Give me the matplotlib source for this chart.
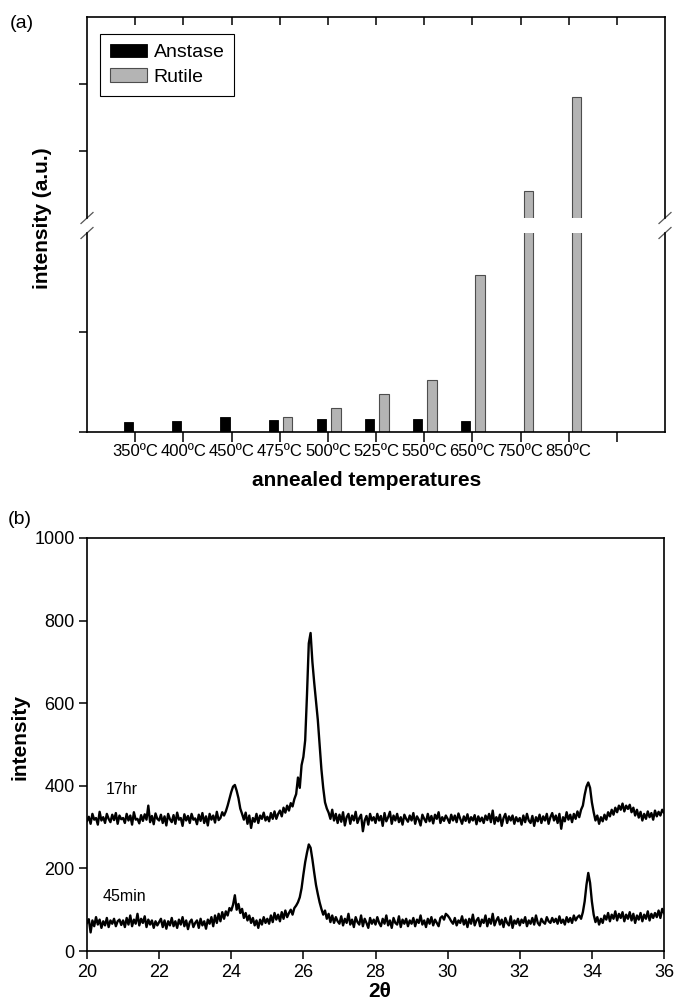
import numpy as np
import matplotlib.pyplot as plt

plt.rcParams['font.family'] = ['Liberation Sans', 'DejaVu Sans']

# ---- (a) peak intensities vs annealing temperature ----
temps = ['350ºC', '400ºC', '450ºC', '475ºC', '500ºC', '525ºC', '550ºC', '650ºC', '750ºC', '850ºC']
anatase = [10, 11, 15, 12, 13, 13, 13, 11]          # 350..650
rutile = [15, 24, 38, 52, 157, 1403, 2806]           # 475..850 (upper part is past the break)

# ---- (b) XRD scans, 2theta 20..36 step 0.05 ----
int_17hr = [
    315, 325, 308, 332, 318, 322, 306, 337, 316, 324, 310, 332, 320, 312, 330, 317, 334, 308, 328, 319,
    322, 310, 332, 316, 328, 306, 336, 318, 320, 309, 329, 315, 331, 318, 352, 312, 327, 307, 333, 320,
    316, 330, 310, 326, 304, 332, 319, 312, 329, 308, 335, 318, 322, 303, 331, 316, 327, 310, 332, 318,
    321, 307, 330, 315, 334, 310, 326, 304, 332, 318, 328, 311, 337, 317, 322, 336, 328, 338, 352, 368,
    385, 398, 402, 388, 370, 345, 332, 318, 335, 308, 328, 298, 322, 313, 332, 310, 328, 320, 335, 316,
    325, 314, 334, 320, 338, 320, 332, 340, 326, 347, 335, 352, 340, 358, 350, 368, 380, 420, 395, 450,
    470, 510, 620, 745, 770, 700, 650, 605, 560, 500, 440, 395, 360, 345, 335, 320, 342, 316, 332, 310,
    330, 313, 336, 304, 324, 332, 308, 328, 316, 337, 310, 322, 330, 290, 316, 327, 306, 332, 316, 324,
    310, 332, 316, 327, 303, 334, 314, 324, 337, 308, 328, 316, 332, 312, 324, 306, 330, 320, 313, 328,
    316, 334, 308, 326, 318, 304, 330, 320, 312, 332, 314, 327, 309, 330, 320, 336, 310, 324, 315, 328,
    320, 310, 330, 316, 328, 312, 333, 320, 308, 326, 315, 331, 311, 324, 316, 329, 307, 326, 314, 323,
    310, 328, 317, 332, 312, 340, 308, 324, 314, 330, 303, 322, 332, 310, 326, 316, 328, 308, 324, 314,
    322, 306, 328, 312, 332, 316, 310, 327, 303, 324, 314, 330, 310, 326, 316, 332, 308, 324, 334, 316,
    328, 310, 332, 296, 324, 314, 336, 318, 330, 312, 332, 320, 338, 324, 342, 352, 378, 398, 408, 395,
    360, 336, 316, 328, 308, 324, 314, 330, 318, 336, 326, 342, 330, 347, 336, 352, 342, 357, 338, 352,
    344, 354, 336, 347, 328, 342, 323, 337, 316, 332, 320, 338, 324, 334, 318, 340, 326, 337, 328, 342,
    335]
int_45min = [
    68, 77, 45, 74, 60, 82, 64, 76, 56, 72, 62, 80, 58, 74, 66, 78, 60, 72, 76, 63,
    74, 58, 80, 64, 86, 60, 76, 66, 90, 62, 78, 68, 84, 58, 76, 64, 74, 56, 72, 62,
    70, 78, 58, 74, 54, 72, 62, 80, 60, 72, 56, 76, 64, 82, 60, 74, 53, 70, 76, 58,
    68, 74, 56, 78, 62, 72, 54, 76, 66, 82, 60, 86, 68, 90, 72, 94, 78, 96, 86, 104,
    98, 112, 135, 100, 114, 92, 102, 80, 92, 74, 86, 68, 80, 62, 74, 56, 76, 64, 82, 68,
    78, 66, 86, 70, 92, 76, 88, 72, 94, 78, 98, 82, 92, 100, 88, 104, 110, 118, 130, 152,
    185, 215, 238, 258, 250, 222, 190, 160, 138, 118, 102, 88, 98, 78, 90, 70, 86, 68, 82, 72,
    66, 84, 62, 78, 68, 90, 64, 76, 58, 82, 70, 64, 86, 60, 78, 68, 56, 80, 66, 76,
    64, 82, 68, 60, 78, 66, 86, 62, 74, 56, 80, 68, 64, 84, 58, 76, 66, 78, 60, 74,
    66, 80, 60, 76, 68, 86, 64, 74, 58, 78, 66, 82, 62, 76, 68, 60, 80, 84, 76, 90,
    86, 80, 72, 66, 80, 62, 74, 68, 84, 64, 76, 58, 78, 66, 88, 62, 74, 80, 60, 76,
    68, 86, 60, 78, 66, 90, 62, 74, 82, 64, 76, 58, 80, 68, 62, 84, 56, 74, 66, 78,
    62, 76, 68, 82, 60, 74, 66, 80, 64, 86, 68, 62, 78, 70, 66, 82, 72, 68, 80, 70,
    78, 66, 84, 68, 76, 64, 82, 70, 80, 68, 86, 74, 82, 86, 78, 94, 120, 160, 189, 165,
    120, 88, 70, 82, 64, 78, 68, 86, 76, 92, 72, 88, 78, 96, 74, 90, 80, 94, 72, 88,
    78, 94, 74, 90, 68, 86, 76, 92, 72, 88, 78, 96, 74, 90, 80, 92, 82, 98, 80, 102,
    92]

W, H = 677, 1005
fig = plt.figure(figsize=(W / 100, H / 100), dpi=100)


def box(l, t, r, b):
    # pixel box -> figure fraction
    return [l / W, 1 - b / H, (r - l) / W, (b - t) / H]


ax_up = fig.add_axes(box(87, 17, 665, 218))
ax_lo = fig.add_axes(box(87, 233, 665, 432))
ax_b = fig.add_axes(box(87, 538, 664, 951))

pos = np.arange(1, len(temps) + 1)
for ax in (ax_up, ax_lo):
    ax.bar(pos[:len(anatase)] - 0.135, anatase, width=0.19, color='black',
           edgecolor='black', lw=0.6, label='Anstase')
    ax.bar(pos[len(temps) - len(rutile):] + 0.165, rutile, width=0.2, color='#b4b4b4',
           edgecolor='#4d4d4d', lw=0.8, label='Rutile')
    ax.set_xlim(0, 12)
    ax.set_xticks(np.arange(1, 12))
    ax.tick_params(axis='y', direction='out', length=6, width=1.1, labelleft=False, right=False)
    for s in ax.spines.values():
        s.set_linewidth(1.2)

ax_lo.set_ylim(0, 199)
ax_lo.set_yticks([0, 100])
ax_lo.spines['top'].set_visible(False)
ax_lo.set_xticklabels(temps + [''], fontsize=12)
ax_lo.tick_params(axis='x', direction='out', length=7, width=1.1, pad=2)

ax_up.set_ylim(1000, 4000)
ax_up.set_yticks([2000, 3000])
ax_up.spines['bottom'].set_visible(False)
ax_up.xaxis.tick_top()
ax_up.tick_params(axis='x', direction='in', length=6, width=1.1, labeltop=False)

leg = ax_up.legend(loc='upper left', bbox_to_anchor=(0.0225, 0.915), borderaxespad=0,
                   fancybox=False, edgecolor='black', framealpha=1, fontsize=14,
                   handlelength=1.9, handletextpad=0.35, borderpad=0.5, labelspacing=0.35)
leg.get_frame().set_linewidth(0.8)

# break marks on both side spines
dx = 6 / 578
for ax, y0, dy in ((ax_lo, 1.0, 5.5 / 199), (ax_up, 0.0, 5.5 / 201)):
    for x0 in (0.0, 1.0):
        ax.plot([x0 - dx, x0 + dx], [y0 - dy, y0 + dy], transform=ax.transAxes,
                color='#555555', lw=0.9, clip_on=False)

fig.text(42 / W, 1 - 218 / H, 'intensity (a.u.)', rotation=90, fontsize=15,
         fontweight='bold', ha='center', va='center')
fig.text(367 / W, 1 - 480 / H, 'annealed temperatures', fontsize=15,
         fontweight='bold', ha='center', va='center')
fig.text(10 / W, 1 - 24 / H, '(a)', fontsize=14, va='center')

# ---- (b) ----
theta = np.linspace(20, 36, len(int_17hr))
ax_b.plot(theta, int_17hr, color='black', lw=1.7)
theta = np.linspace(20, 36, len(int_45min))
ax_b.plot(theta, int_45min, color='black', lw=1.7)
ax_b.set_xlim(20, 36)
ax_b.set_ylim(0, 1000)
ax_b.set_xticks(range(20, 37, 2))
ax_b.set_yticks(range(0, 1001, 200))
ax_b.tick_params(direction='out', length=6, width=1.1, labelsize=13, pad=3)
for s in ax_b.spines.values():
    s.set_linewidth(1.2)
ax_b.text(20.53, 390, '17hr', fontsize=11.5, va='center')
ax_b.text(20.42, 133, '45min', fontsize=11.5, va='center')

fig.text(20 / W, 1 - 737 / H, 'intensity', rotation=90, fontsize=15,
         fontweight='bold', ha='center', va='center')
fig.text(380 / W, 1 - 991 / H, '2θ', fontsize=15, fontweight='bold', ha='center', va='center')
fig.text(8 / W, 1 - 519 / H, '(b)', fontsize=14, va='center')

fig.savefig('out.png', dpi=100)
